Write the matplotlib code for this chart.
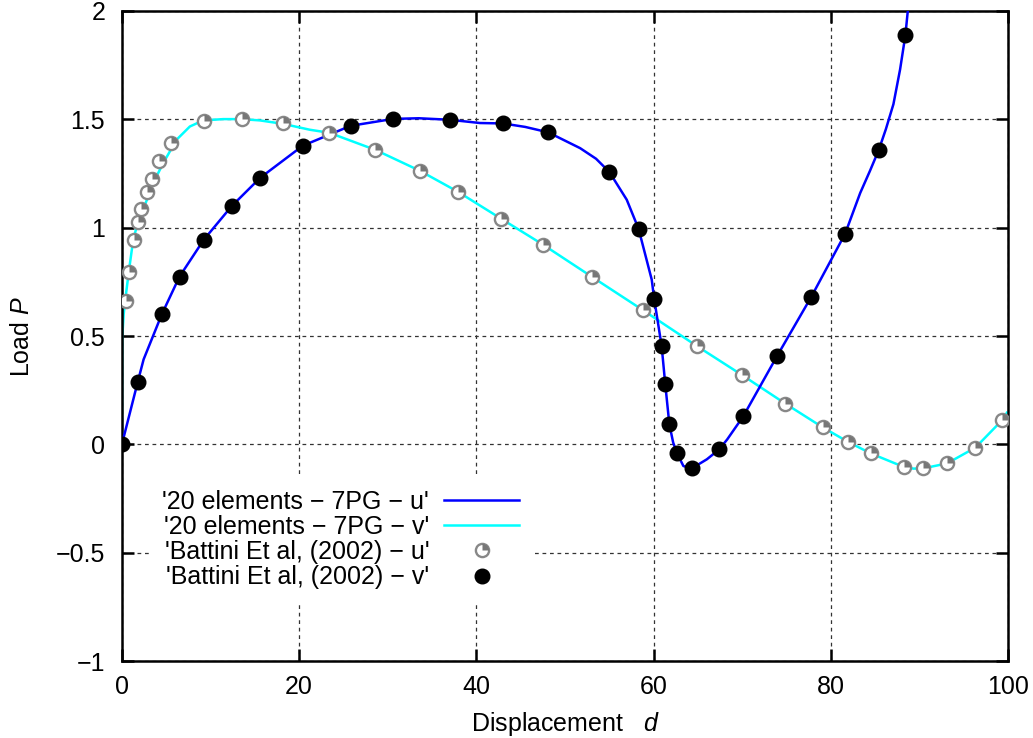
import numpy as np
import matplotlib
matplotlib.use("Agg")
import matplotlib.pyplot as plt
from matplotlib.path import Path
from matplotlib.legend_handler import HandlerTuple

# === Data ===
# FE solution, 20 elements - 7PG - u' (blue line)
fe_u_d = [0, 1.8, 2.45, 4.5, 6.5, 9.25, 12.4, 15.6, 20.4, 25.8, 30.6, 33.5, 37.0,
          40.4, 43.0, 45.5, 48.1, 51.7, 53.5, 55.0, 56.96, 58.3, 59.78, 60.05,
          60.9, 61.3, 61.77, 62.2, 62.6, 63.35, 64.3, 66.0, 67.4, 68.3, 70.1,
          73.9, 77.8, 81.6, 83.3, 84.4, 85.4, 86.2, 87.05, 87.8, 88.4, 88.67]
fe_u_p = [0, 0.29, 0.392, 0.60, 0.774, 0.945, 1.10, 1.23, 1.378, 1.47, 1.502,
          1.505, 1.498, 1.483, 1.481, 1.465, 1.440, 1.367, 1.318, 1.257, 1.129,
          0.994, 0.76, 0.673, 0.453, 0.280, 0.092, 0.008, -0.038, -0.10,
          -0.111, -0.069, -0.023, 0.023, 0.129, 0.406, 0.682, 0.972, 1.16,
          1.262, 1.359, 1.455, 1.57, 1.73, 1.889, 2.0]

# FE solution, 20 elements - 7PG - v' (cyan line)
fe_v_d = [0, 0.05, 0.2, 0.42, 0.79, 1.28, 1.84, 2.4, 3.53, 4.66, 6.17, 7.67,
          9.18, 11.43, 13.5, 15.58, 18.2, 21.2, 23.4, 28.6, 33.6, 37.9, 42.8,
          47.5, 53.0, 58.8, 64.9, 70.0, 74.85, 79.05, 81.9, 84.5, 88.2, 89.3,
          90.4, 93.1, 96.3, 99.3, 99.85]
fe_v_p = [0, 0.5, 0.6, 0.68, 0.80, 0.945, 1.03, 1.083, 1.206, 1.298, 1.406,
          1.467, 1.495, 1.501, 1.501, 1.495, 1.479, 1.452, 1.438, 1.359, 1.263,
          1.166, 1.041, 0.922, 0.774, 0.619, 0.453, 0.319, 0.188, 0.079, 0.012,
          -0.042, -0.104, -0.112, -0.111, -0.088, -0.015, 0.111, 0.146]

# Battini et al. (2002) - u' (grey quarter circles)
bat_u_d = [0.42, 0.79, 1.35, 1.84, 2.18, 2.82, 3.35, 4.21, 5.5, 9.25, 13.5,
           18.2, 23.4, 28.6, 33.6, 37.9, 42.8, 47.5, 53.0, 58.8, 64.9, 70.0,
           74.85, 79.05, 81.9, 84.5, 88.2, 90.4, 93.1, 96.3, 99.3]
bat_u_p = [0.662, 0.796, 0.941, 1.026, 1.088, 1.166, 1.224, 1.306, 1.389,
           1.494, 1.501, 1.482, 1.438, 1.359, 1.263, 1.166, 1.041, 0.922, 0.774,
           0.619, 0.453, 0.319, 0.188, 0.079, 0.012, -0.042, -0.104, -0.111,
           -0.088, -0.015, 0.111]

# Battini et al. (2002) - v' (black dots)
bat_v_d = [0, 1.8, 4.5, 6.5, 9.25, 12.4, 15.6, 20.4, 25.8, 30.6, 37.0, 43.0,
           48.1, 55.0, 58.3, 60.05, 60.9, 61.3, 61.77, 62.6, 64.3, 67.4, 70.1,
           73.9, 77.8, 81.6, 85.4, 88.4]
bat_v_p = [0, 0.29, 0.60, 0.774, 0.945, 1.10, 1.23, 1.378, 1.47, 1.502, 1.498,
           1.481, 1.440, 1.257, 0.994, 0.673, 0.453, 0.280, 0.092, -0.038,
           -0.111, -0.023, 0.129, 0.406, 0.682, 0.972, 1.359, 1.889]

labels = ["'20 elements \u2212 7PG \u2212 u'",
          "'20 elements \u2212 7PG \u2212 v'",
          "'Battini Et al, (2002) \u2212 u'",
          "'Battini Et al, (2002) \u2212 v'"]

# === Style ===
plt.rcParams['font.family'] = ['Liberation Sans', 'DejaVu Sans']
plt.rcParams['mathtext.fontset'] = 'custom'
plt.rcParams['mathtext.rm'] = 'Liberation Sans'
plt.rcParams['mathtext.it'] = 'Liberation Sans:italic'
FS = 18

fig = plt.figure(figsize=(10.33, 7.38), dpi=100)
ax = fig.add_axes([0.118, 0.1043, 0.858, 0.8808])

wedge = Path.wedge(0, 90)

l_u, = ax.plot(fe_u_d, fe_u_p, color='#0000ff', lw=1.8, zorder=3)
l_v, = ax.plot(fe_v_d, fe_v_p, color='#00ffff', lw=1.8, zorder=2)
ring, = ax.plot(bat_u_d, bat_u_p, ls='none', marker='o', ms=9.5, mfc='white',
                mec='#888888', mew=1.7, zorder=4)
quart, = ax.plot(bat_u_d, bat_u_p, ls='none', marker=wedge, ms=9.5,
                 mfc='#777777', mec='none', zorder=5)
dots, = ax.plot(bat_v_d, bat_v_p, ls='none', marker='o', ms=10.5, mfc='black',
                mec='black', zorder=6)

ax.set_xlim(0, 100)
ax.set_ylim(-1, 2)
ax.set_xticks([0, 20, 40, 60, 80, 100])
ax.set_yticks([-1, -0.5, 0, 0.5, 1, 1.5, 2])
ax.set_yticklabels(['\u22121', '\u22120.5', '0', '0.5', '1', '1.5', '2'])

ax.grid(True, color='#333333', lw=0.9, ls=(0, (3, 3)))
ax.set_axisbelow(True)
for s in ax.spines.values():
    s.set_linewidth(1.8)
ax.tick_params(direction='in', length=8.5, width=1.8, top=True, right=True,
               labelsize=FS)
ax.tick_params(axis='x', pad=10)
ax.tick_params(axis='y', pad=12)

ax.set_xlabel('Displacement   $d$', fontsize=FS, labelpad=8)
ax.set_ylabel('Load $P$', fontsize=FS, labelpad=16)

leg = ax.legend([l_u, l_v, (ring, quart), dots], labels,
                handler_map={tuple: HandlerTuple(ndivide=1)},
                loc='center', bbox_to_anchor=(0.247, 0.187), fontsize=FS,
                markerfirst=False, frameon=True, framealpha=1,
                edgecolor='none', fancybox=False, handlelength=3.0,
                handletextpad=0.6, labelspacing=0.05, borderpad=0.5,
                numpoints=1)
leg.set_zorder(10)

fig.savefig('out.png', dpi=100)
